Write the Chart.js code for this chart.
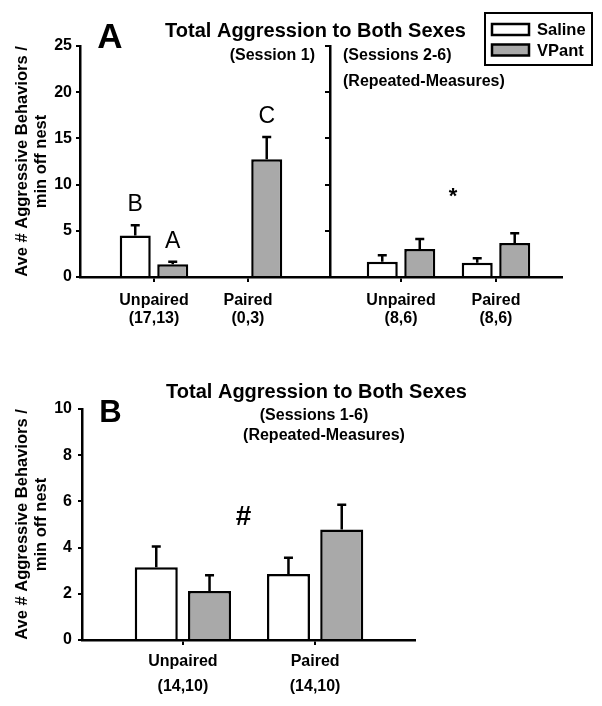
<!DOCTYPE html>
<html lang="en">
<head>
<meta charset="UTF-8">
<title>Total Aggression to Both Sexes</title>
<script src="https://cdn.jsdelivr.net/npm/chart.js"></script>
<style>
  body { margin: 0; background: #fff; }
  #wrap { width: 602px; height: 706px; }
  canvas { display: block; }
</style>
</head>
<body>
<div id="wrap">
  <canvas id="chartA" width="602" height="345"></canvas>
  <canvas id="chartB" width="602" height="361"></canvas>
</div>
<script>
// ---- panel A: session 1 (left half) and sessions 2-6 (right half)
const groupsA = ['Unpaired', 'Paired', 'Unpaired', 'Paired'];
const nA = ['(17,13)', '(0,3)', '(8,6)', '(8,6)'];
const salineA = [4.5, null, 1.66, 1.55];
const salineSemA = [1.1, null, 0.7, 0.47];
const vpantA = [1.37, 12.75, 3.03, 3.68];
const vpantSemA = [0.28, 2.4, 1.08, 1.05];
const salineLettersA = ['B', '', '', ''];
const vpantLettersA = ['A', 'C', '', ''];

// ---- panel B: sessions 1-6
const groupsB = ['Unpaired', 'Paired'];
const nB = ['(14,10)', '(14,10)'];
const salineB = [3.15, 2.86];
const salineSemB = [0.9, 0.7];
const vpantB = [2.12, 4.78];
const vpantSemB = [0.68, 1.07];

// layout: where the groups sit on the 0..10 x axis
const posA = [1.535, 3.485, 6.66, 8.63];
const splitA = 5.19;
const posB = [3.03, 7.0];

const FONT = '"Liberation Sans", Arial, sans-serif';
const GRAY = '#a9a9a9';
Chart.defaults.color = '#000';
Chart.defaults.font.family = FONT;

// error bars (upper only) + significance letters above them
const errorBars = {
  id: 'errorBars',
  afterDatasetsDraw(chart) {
    const ctx = chart.ctx, ys = chart.scales.y;
    ctx.save();
    ctx.strokeStyle = '#000';
    ctx.lineWidth = 2.5;
    chart.data.datasets.forEach((ds, i) => {
      chart.getDatasetMeta(i).data.forEach((bar, j) => {
        const v = ds.data[j].y, e = ds.sem[j];
        if (v == null || e == null) return;
        const top = ys.getPixelForValue(v + e);
        ctx.beginPath();
        ctx.moveTo(bar.x, bar.y);
        ctx.lineTo(bar.x, top);
        ctx.moveTo(bar.x - 4.5, top);
        ctx.lineTo(bar.x + 4.5, top);
        ctx.stroke();
        const letter = ds.letters && ds.letters[j];
        if (letter) {
          ctx.fillStyle = '#000';
          ctx.font = '23px ' + FONT;
          ctx.textAlign = 'center';
          ctx.textBaseline = 'alphabetic';
          ctx.fillText(letter, bar.x, top - 14);
        }
      });
    });
    ctx.restore();
  }
};

// titles, panel letters, * / # markers and the boxed legend
function panelText(items, marks, legendBox) {
  return {
    id: 'panelText',
    afterDraw(chart) {
      const ctx = chart.ctx;
      ctx.save();
      ctx.fillStyle = '#000';
      items.forEach(t => {
        ctx.font = t.font + ' ' + FONT;
        ctx.textAlign = t.align || 'center';
        ctx.textBaseline = 'middle';
        ctx.fillText(t.text, t.x, t.y);
      });
      marks.forEach(m => {
        ctx.font = m.font + ' ' + FONT;
        ctx.textAlign = 'center';
        ctx.textBaseline = 'alphabetic';
        const mt = ctx.measureText(m.text);
        const px = chart.scales.x.getPixelForValue(m.x);
        const py = chart.scales.y.getPixelForValue(m.y);
        ctx.fillText(m.text, px, py + (mt.actualBoundingBoxAscent - mt.actualBoundingBoxDescent) / 2);
      });
      if (legendBox) {
        const b = legendBox;
        ctx.strokeStyle = '#000';
        ctx.lineWidth = 2;
        ctx.strokeRect(b.x, b.y, b.w, b.h);
        chart.data.datasets.forEach((ds, i) => {
          const cy = b.y + 16.5 + i * 20.5;
          ctx.fillStyle = ds.backgroundColor;
          ctx.fillRect(b.x + 7, cy - 5.5, 37, 11);
          ctx.lineWidth = 2.5;
          ctx.strokeRect(b.x + 7, cy - 5.5, 37, 11);
          ctx.fillStyle = '#000';
          ctx.font = 'bold 16.5px ' + FONT;
          ctx.textAlign = 'left';
          ctx.textBaseline = 'middle';
          ctx.fillText(ds.label, b.x + 52, cy + 1);
        });
      }
      ctx.restore();
    }
  };
}

function xAxis(pos, labels, height, pad, lineHeight) {
  return {
    type: 'linear', min: 0, max: 10, offset: false,
    afterBuildTicks(s) { s.ticks = pos.map(v => ({ value: v })); },
    afterFit(s) { s.height = height; },
    ticks: {
      autoSkip: false, maxRotation: 0, padding: pad,
      callback: (v, i) => labels[i],
      font: { size: 16, weight: 'bold', lineHeight: lineHeight }
    },
    grid: { offset: false, drawOnChartArea: false, tickLength: 5, color: '#000', lineWidth: 2 },
    border: { display: true, color: '#000', width: 2.5 }
  };
}

function yAxis(max, step, width, pad) {
  return {
    min: 0, max: max,
    afterFit(s) { s.width = width; },
    ticks: { stepSize: step, padding: pad, font: { size: 16, weight: 'bold' } },
    grid: { drawOnChartArea: false, tickLength: 4, color: '#000', lineWidth: 2 },
    border: { display: true, color: '#000', width: 2.5 },
    title: {
      display: true,
      text: ['Ave # Aggressive Behaviors /', 'min off nest'],
      font: { size: 16.5, weight: 'bold', lineHeight: 1.21 },
      padding: { top: 12, bottom: 0 }
    }
  };
}

const barOpts = { borderColor: '#000', borderWidth: 2.5 };

new Chart(document.getElementById('chartA'), {
  type: 'bar',
  data: {
    datasets: [
      Object.assign({ label: 'Saline', data: posA.map((x, i) => ({ x, y: salineA[i] })),
        sem: salineSemA, letters: salineLettersA, backgroundColor: '#fff' }, barOpts),
      Object.assign({ label: 'VPant', data: posA.map((x, i) => ({ x, y: vpantA[i] })),
        sem: vpantSemA, letters: vpantLettersA, backgroundColor: GRAY }, barOpts)
    ]
  },
  options: {
    responsive: false,
    animation: false,
    layout: { padding: { top: 46, right: 40, left: 0, bottom: 0 } },
    datasets: { bar: { categoryPercentage: 0.798, barPercentage: 0.827 } },
    plugins: { legend: { display: false }, tooltip: { enabled: false } },
    scales: {
      x: xAxis(posA, groupsA.map((g, i) => [g, nA[i]]), 68, 9, 1.15),
      y: yAxis(25, 5, 80, 4),
      y2: {
        axis: 'y', position: { x: splitA }, min: 0, max: 25,
        ticks: { display: false, stepSize: 5 },
        grid: { drawOnChartArea: false, tickLength: 4, color: '#000', lineWidth: 2 },
        border: { display: true, color: '#000', width: 2.5 }
      }
    }
  },
  plugins: [errorBars, panelText([
    { text: 'A', x: 110, y: 38, font: 'bold 35px' },
    { text: 'Total Aggression to Both Sexes', x: 315.5, y: 31, font: 'bold 20px' },
    { text: '(Session 1)', x: 315, y: 56, font: 'bold 16px', align: 'right' },
    { text: '(Sessions 2-6)', x: 343, y: 56, font: 'bold 16px', align: 'left' },
    { text: '(Repeated-Measures)', x: 343, y: 82, font: 'bold 16px', align: 'left' }
  ], [
    { text: '*', x: 7.74, y: 9.1, font: 'bold 22px' }
  ], { x: 485, y: 13, w: 107, h: 52 })]
});

new Chart(document.getElementById('chartB'), {
  type: 'bar',
  data: {
    datasets: [
      Object.assign({ label: 'Saline', data: posB.map((x, i) => ({ x, y: salineB[i] })),
        sem: salineSemB, backgroundColor: '#fff' }, barOpts),
      Object.assign({ label: 'VPant', data: posB.map((x, i) => ({ x, y: vpantB[i] })),
        sem: vpantSemB, backgroundColor: GRAY }, barOpts)
    ]
  },
  options: {
    responsive: false,
    animation: false,
    layout: { padding: { top: 64, right: 187, left: 0, bottom: 0 } },
    datasets: { bar: { categoryPercentage: 0.806, barPercentage: 0.808 } },
    plugins: { legend: { display: false }, tooltip: { enabled: false } },
    scales: {
      x: xAxis(posB, groupsB.map((g, i) => [g, nB[i]]), 66, 4.5, 1.56),
      y: yAxis(10, 2, 82, 6)
    }
  },
  plugins: [errorBars, panelText([
    { text: 'B', x: 110.5, y: 68, font: 'bold 31px' },
    { text: 'Total Aggression to Both Sexes', x: 316.5, y: 47, font: 'bold 20px' },
    { text: '(Sessions 1-6)', x: 314, y: 71, font: 'bold 16px' },
    { text: '(Repeated-Measures)', x: 324, y: 91, font: 'bold 16px' }
  ], [
    { text: '#', x: 4.85, y: 5.4, font: 'bold 28px' }
  ], null)]
});
</script>
</body>
</html>
